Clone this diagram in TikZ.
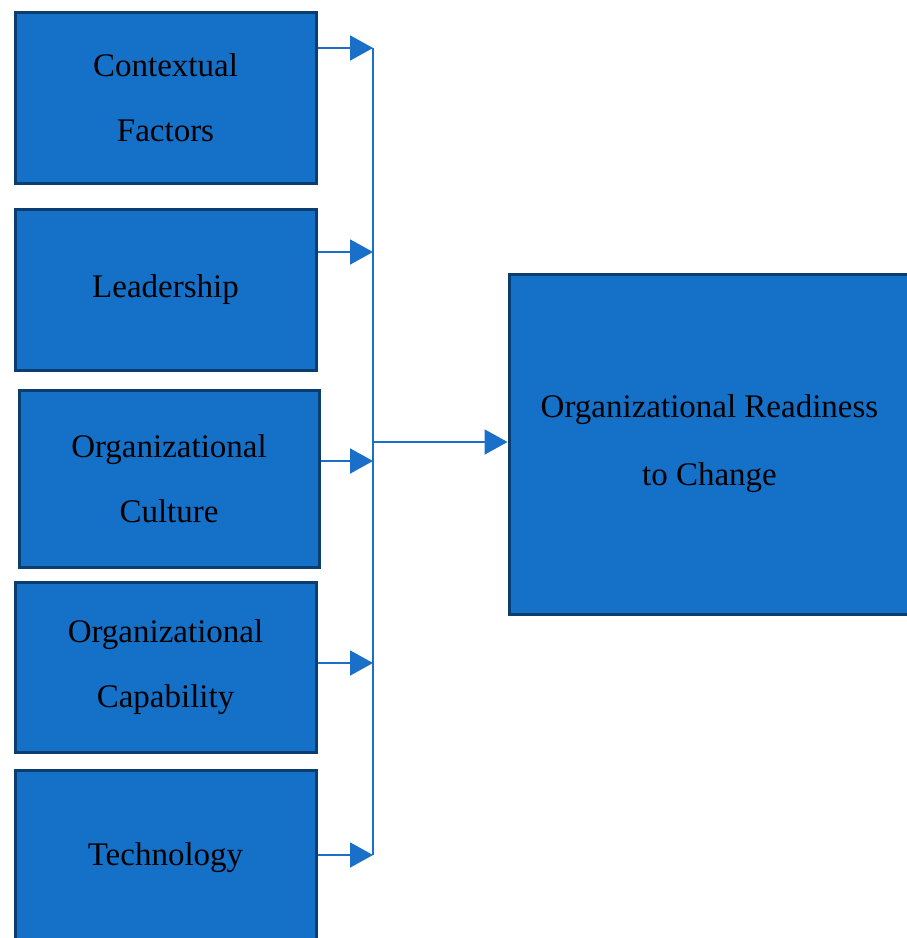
\documentclass[tikz,border=0pt]{standalone}
\usepackage{fontspec}
\setmainfont{Liberation Serif}
\usetikzlibrary{arrows.meta}
\definecolor{boxfill}{HTML}{1570C8}
\definecolor{boxedge}{HTML}{0B3D6E}
\definecolor{lineblue}{HTML}{1A6FC8}
\begin{document}
\begin{tikzpicture}[x=1pt,y=-1pt,
  fbox/.style={draw=boxedge,line width=3pt,fill=boxfill,inner sep=0pt,
    align=center,text=black,font=\fontsize{33}{65}\selectfont},
  arr/.style={draw=lineblue,line width=2pt,-{Triangle[length=23pt,width=25pt]}},
  conn/.style={draw=lineblue,line width=2pt}]
\useasboundingbox (0,0) rectangle (907,938);
\node[fbox,minimum width=301pt,minimum height=171pt] (b1) at (165.5,97.5) {Contextual\\Factors};
\node[fbox,minimum width=301pt,minimum height=161pt] (b2) at (165.5,289.5) {Leadership};
\node[fbox,minimum width=300pt,minimum height=177pt] (b3) at (169,478.5) {Organizational\\Culture};
\node[fbox,minimum width=301pt,minimum height=170pt] (b4) at (165.5,667) {Organizational\\Capability};
\node[fbox,minimum width=301pt,minimum height=176pt] (b5) at (165.5,858) {Technology};
\node[fbox,minimum width=401pt,minimum height=340pt,font=\fontsize{33}{68}\selectfont] (r) at (709.5,444) {Organizational Readiness\\to Change};
\coordinate (j1) at (373,48);
\coordinate (j2) at (373,252);
\coordinate (j3) at (373,461);
\coordinate (j4) at (373,663);
\coordinate (j5) at (373,855);
\coordinate (jr) at (373,442);
\draw[arr] (b1.east |- j1) -- (j1);
\draw[arr] (b2.east |- j2) -- (j2);
\draw[arr] (b3.east |- j3) -- (j3);
\draw[arr] (b4.east |- j4) -- (j4);
\draw[arr] (b5.east |- j5) -- (j5);
\draw[conn] (j1) -- (j5);
\draw[arr] (jr) -- (r.west |- jr);
\end{tikzpicture}
\end{document}
